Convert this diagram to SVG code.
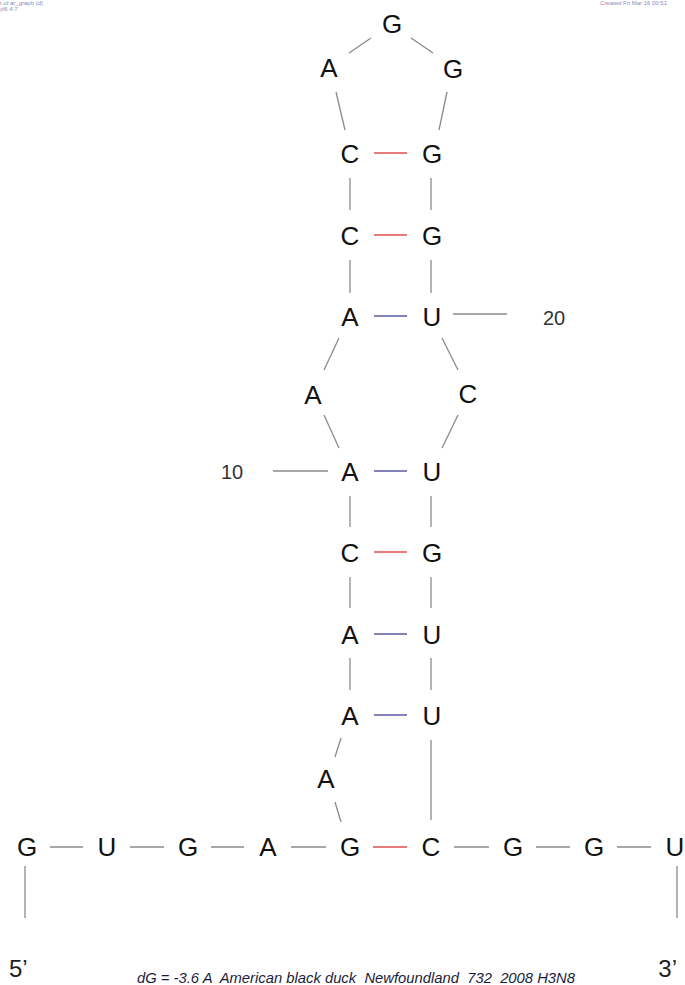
<svg xmlns="http://www.w3.org/2000/svg" width="685" height="985" viewBox="0 0 685 985">
<style>
.b{font-family:"Liberation Sans",Arial,sans-serif;font-size:26px;fill:#111;text-anchor:middle}
.n{font-family:"Liberation Sans",Arial,sans-serif;font-size:20px;fill:#333;text-anchor:middle}
.e{font-family:"Liberation Sans",Arial,sans-serif;font-size:24px;fill:#222}
.cap{font-family:"Liberation Sans",Arial,sans-serif;font-size:14.8px;font-style:italic;fill:#1c1c3c;white-space:pre}
.hd{font-family:"Liberation Sans",Arial,sans-serif;font-size:6px;fill:#8a8ab8}
.g line{stroke:#8a8a8a;stroke-width:1.3}
line.r{stroke:#e05050 !important;stroke-width:1.6 !important}
line.u{stroke:#5a5aa0 !important;stroke-width:1.6 !important}
</style>
<rect width="685" height="985" fill="#fff"/>
<text class="hd" x="0" y="5">t of ar_graph (d)</text>
<text class="hd" x="0" y="11">yl6 4.7</text>
<text class="hd" x="600" y="5">Created Fri Mar 16 00:51</text>
<g id="connectors" class="g">
<line x1="349" y1="53" x2="371" y2="38"/>
<line x1="411" y1="38" x2="433" y2="53"/>
<line x1="336" y1="92" x2="345" y2="130"/>
<line x1="447" y1="92" x2="439" y2="130"/>
<line class="r" x1="374" y1="153" x2="407" y2="153"/>
<line class="r" x1="374" y1="235" x2="407" y2="235"/>
<line class="u" x1="374" y1="316" x2="407" y2="316"/>
<line class="u" x1="374" y1="471" x2="407" y2="471"/>
<line class="r" x1="374" y1="552" x2="407" y2="552"/>
<line class="u" x1="374" y1="634" x2="407" y2="634"/>
<line class="u" x1="374" y1="715" x2="407" y2="715"/>
<line class="r" x1="373" y1="847" x2="407" y2="847"/>
<line x1="350" y1="178" x2="350" y2="210"/>
<line x1="431" y1="178" x2="431" y2="210"/>
<line x1="350" y1="260" x2="350" y2="293"/>
<line x1="431" y1="260" x2="431" y2="293"/>
<line x1="350" y1="496" x2="350" y2="527"/>
<line x1="431" y1="496" x2="431" y2="527"/>
<line x1="350" y1="577" x2="350" y2="608"/>
<line x1="431" y1="577" x2="431" y2="608"/>
<line x1="350" y1="658" x2="350" y2="690"/>
<line x1="431" y1="658" x2="431" y2="690"/>
<line x1="431" y1="740" x2="431" y2="820"/>
<line x1="339" y1="338" x2="324" y2="370"/>
<line x1="324" y1="415" x2="339" y2="448"/>
<line x1="442" y1="338" x2="458" y2="370"/>
<line x1="458" y1="415" x2="442" y2="448"/>
<line x1="341" y1="738" x2="335" y2="757"/>
<line x1="335" y1="802" x2="341" y2="822"/>
<line x1="453" y1="314" x2="507" y2="314"/>
<line x1="273" y1="471" x2="328" y2="471"/>
<line x1="50" y1="847" x2="83" y2="847"/>
<line x1="130" y1="847" x2="164" y2="847"/>
<line x1="211" y1="847" x2="244" y2="847"/>
<line x1="291" y1="847" x2="326" y2="847"/>
<line x1="454" y1="847" x2="489" y2="847"/>
<line x1="536" y1="847" x2="570" y2="847"/>
<line x1="617" y1="847" x2="651" y2="847"/>
<line x1="25" y1="866" x2="25" y2="918"/>
<line x1="677" y1="866" x2="677" y2="918"/>
</g>
<g id="n1"><text class="b" x="27" y="856">G</text></g>
<g id="n2"><text class="b" x="107" y="856">U</text></g>
<g id="n3"><text class="b" x="188" y="856">G</text></g>
<g id="n4"><text class="b" x="268" y="856">A</text></g>
<g id="n5"><text class="b" x="350" y="856">G</text></g>
<g id="n6"><text class="b" x="326" y="788">A</text></g>
<g id="n7"><text class="b" x="350" y="725">A</text></g>
<g id="n8"><text class="b" x="350" y="644">A</text></g>
<g id="n9"><text class="b" x="350" y="562">C</text></g>
<g id="n10"><text class="b" x="350" y="481">A</text></g>
<g id="n11"><text class="b" x="313" y="404">A</text></g>
<g id="n12"><text class="b" x="350" y="326">A</text></g>
<g id="n13"><text class="b" x="350" y="245">C</text></g>
<g id="n14"><text class="b" x="350" y="163">C</text></g>
<g id="n15"><text class="b" x="329" y="77">A</text></g>
<g id="n16"><text class="b" x="392" y="33">G</text></g>
<g id="n17"><text class="b" x="453" y="78">G</text></g>
<g id="n18"><text class="b" x="432" y="163">G</text></g>
<g id="n19"><text class="b" x="432" y="245">G</text></g>
<g id="n20"><text class="b" x="432" y="326">U</text></g>
<g id="n21"><text class="b" x="468" y="403">C</text></g>
<g id="n22"><text class="b" x="432" y="481">U</text></g>
<g id="n23"><text class="b" x="432" y="562">G</text></g>
<g id="n24"><text class="b" x="432" y="644">U</text></g>
<g id="n25"><text class="b" x="432" y="725">U</text></g>
<g id="n26"><text class="b" x="431" y="856">C</text></g>
<g id="n27"><text class="b" x="513" y="856">G</text></g>
<g id="n28"><text class="b" x="594" y="856">G</text></g>
<g id="n29"><text class="b" x="675" y="856">U</text></g>
<g id="labels">
<text class="n" x="232" y="479">10</text>
<text class="n" x="554" y="325">20</text>
<text class="e" x="9" y="977">5’</text>
<text class="e" x="677" y="977" text-anchor="end">3’</text>
<text class="cap" x="137" y="983">dG = -3.6 A  American black duck  Newfoundland  732  2008 H3N8</text>
</g>
</svg>
